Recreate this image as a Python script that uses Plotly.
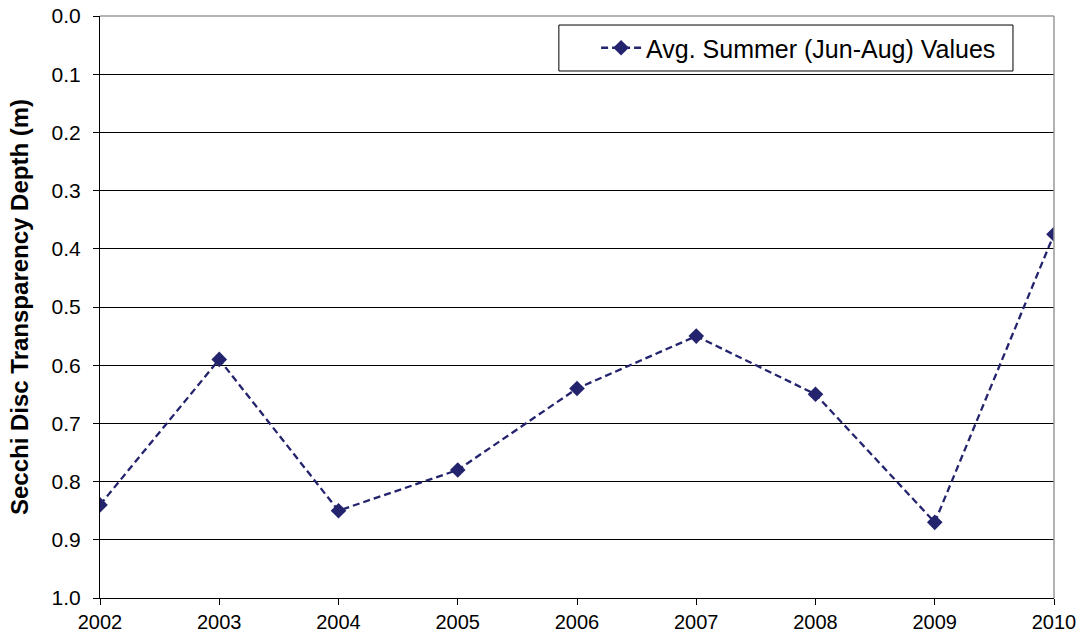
import plotly.graph_objects as go

years = [2002, 2003, 2004, 2005, 2006, 2007, 2008, 2009, 2010]
depth = [0.84, 0.59, 0.85, 0.78, 0.64, 0.55, 0.65, 0.87, 0.375]
series_name = "Avg. Summer (Jun-Aug) Values"
y_ticks = [0.0, 0.1, 0.2, 0.3, 0.4, 0.5, 0.6, 0.7, 0.8, 0.9, 1.0]
y_title = "Secchi Disc Transparency Depth (m)"

navy = "#24246E"
FONT = "Liberation Sans, Arial, sans-serif"

fig = go.Figure()
fig.add_trace(go.Scatter(
    x=years, y=depth, mode="lines+markers", name=series_name,
    line=dict(color=navy, width=2.3, dash="7px,4px"),
    marker=dict(symbol="diamond", size=12, color=navy),
))

fig.update_layout(
    width=1081, height=640,
    margin=dict(l=100, r=27, t=16, b=42),
    paper_bgcolor="white", plot_bgcolor="white",
    font=dict(family=FONT, color="black"),
    showlegend=True,
    legend=dict(
        x=0.52, xanchor="left", y=0.945, yanchor="middle",
        bgcolor="rgba(0,0,0,0)", borderwidth=0,
        font=dict(size=25, color="black"),
        itemwidth=40,
    ),
    xaxis=dict(
        range=[2002, 2010], tickvals=years, ticktext=[str(y) for y in years],
        showgrid=False, zeroline=False, automargin=False,
        showline=True, linecolor="black", linewidth=1,
        ticks="outside", ticklen=6, tickcolor="black",
        tickfont=dict(size=20), fixedrange=True,
    ),
    yaxis=dict(
        range=[1.0, 0.0], tickvals=y_ticks, ticktext=[f"{v:.1f}" for v in y_ticks],
        showgrid=True, gridcolor="black", gridwidth=1, zeroline=False,
        automargin=False,
        showline=True, linecolor="black", linewidth=1,
        ticks="outside", ticklen=6, tickcolor="black",
        tickfont=dict(size=21), ticklabelstandoff=8,
        title=dict(text=y_title, font=dict(size=24, family=FONT, weight="bold"), standoff=16),
    ),
    shapes=[
        dict(type="line", xref="paper", yref="paper", x0=0, x1=1, y0=1, y1=1,
             line=dict(color="#9A9A9A", width=1.5), layer="above"),
        dict(type="line", xref="paper", yref="paper", x0=1, x1=1, y0=0, y1=1,
             line=dict(color="#9A9A9A", width=1.5), layer="above"),
        dict(type="rect", xref="paper", yref="paper", x0=0.481, x1=0.957, y0=0.9055, y1=0.9845,
             line=dict(color="black", width=1), fillcolor="white", layer="above"),
    ],
)

fig.write_html("out.html", config={"displayModeBar": False},
               post_script="document.body.style.margin='0';")
